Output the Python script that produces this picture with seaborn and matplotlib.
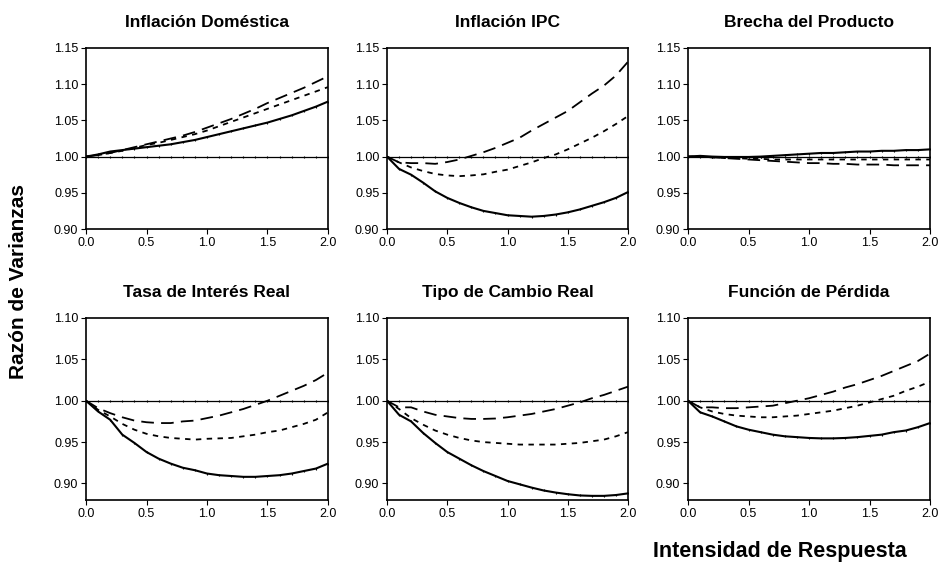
import numpy as np
import pandas as pd
import matplotlib
matplotlib.use("Agg")
import matplotlib.pyplot as plt
import seaborn as sns

sns.set_style("ticks")
plt.rcParams['font.family'] = ['Liberation Sans', 'DejaVu Sans']
plt.rcParams['text.color'] = 'black'
plt.rcParams['axes.labelcolor'] = 'black'

x = [round(0.1 * i, 1) for i in range(21)]

titles = ["Inflación Doméstica", "Inflación IPC", "Brecha del Producto",
          "Tasa de Interés Real", "Tipo de Cambio Real", "Función de Pérdida"]

# solid / short-dash / long-dash series per panel
dom_solid = [1.000, 1.003, 1.007, 1.009, 1.011, 1.013, 1.015, 1.017, 1.020, 1.023, 1.027,
             1.031, 1.035, 1.039, 1.043, 1.047, 1.052, 1.057, 1.063, 1.069, 1.076]
dom_short = [1.000, 1.002, 1.005, 1.008, 1.012, 1.016, 1.019, 1.023, 1.027, 1.031, 1.036,
             1.042, 1.048, 1.054, 1.060, 1.066, 1.072, 1.078, 1.084, 1.090, 1.096]
dom_long = [1.000, 1.002, 1.005, 1.009, 1.013, 1.017, 1.021, 1.025, 1.029, 1.034, 1.040,
            1.046, 1.052, 1.059, 1.066, 1.074, 1.081, 1.088, 1.095, 1.103, 1.111]

ipc_solid = [1.000, 0.983, 0.975, 0.964, 0.952, 0.943, 0.936, 0.930, 0.925, 0.922, 0.919,
             0.918, 0.917, 0.918, 0.920, 0.923, 0.927, 0.932, 0.937, 0.943, 0.951]
ipc_short = [1.000, 0.992, 0.985, 0.980, 0.976, 0.974, 0.973, 0.974, 0.9755, 0.979, 0.982,
             0.987, 0.992, 0.998, 1.003, 1.010, 1.018, 1.026, 1.035, 1.045, 1.056]
ipc_long = [1.000, 0.992, 0.991, 0.991, 0.990, 0.9925, 0.996, 1.001, 1.006, 1.012, 1.019,
            1.026, 1.036, 1.045, 1.054, 1.063, 1.075, 1.087, 1.098, 1.112, 1.131]

gap_solid = [1.000, 1.001, 1.000, 0.9995, 0.9995, 0.9995, 1.000, 1.001, 1.002, 1.003, 1.004,
             1.005, 1.005, 1.006, 1.007, 1.007, 1.008, 1.008, 1.009, 1.009, 1.010]
gap_short = [1.000, 1.000, 0.999, 0.998, 0.998, 0.997, 0.997, 0.996, 0.996, 0.996, 0.996,
             0.996, 0.996, 0.996, 0.996, 0.996, 0.996, 0.996, 0.996, 0.996, 0.996]
gap_long = [1.000, 1.000, 0.999, 0.998, 0.997, 0.996, 0.995, 0.994, 0.993, 0.992, 0.991,
            0.991, 0.990, 0.990, 0.989, 0.989, 0.989, 0.988, 0.988, 0.988, 0.988]

tir_solid = [1.000, 0.987, 0.977, 0.959, 0.949, 0.938, 0.930, 0.924, 0.919, 0.916, 0.912,
             0.910, 0.909, 0.908, 0.908, 0.909, 0.910, 0.912, 0.915, 0.918, 0.924]
tir_short = [1.000, 0.989, 0.981, 0.972, 0.965, 0.960, 0.957, 0.955, 0.954, 0.953, 0.954,
             0.9545, 0.955, 0.957, 0.959, 0.962, 0.964, 0.968, 0.972, 0.977, 0.986]
tir_long = [1.000, 0.991, 0.985, 0.980, 0.976, 0.974, 0.973, 0.973, 0.975, 0.976, 0.979,
            0.982, 0.986, 0.990, 0.995, 1.000, 1.006, 1.012, 1.018, 1.025, 1.034]

tcr_solid = [1.000, 0.983, 0.975, 0.961, 0.949, 0.938, 0.930, 0.922, 0.915, 0.909, 0.903,
             0.899, 0.895, 0.8915, 0.889, 0.887, 0.8855, 0.885, 0.885, 0.886, 0.888]
tcr_short = [1.000, 0.990, 0.979, 0.971, 0.964, 0.959, 0.955, 0.952, 0.950, 0.949, 0.948,
             0.947, 0.947, 0.947, 0.947, 0.948, 0.949, 0.951, 0.953, 0.957, 0.962]
tcr_long = [1.000, 0.992, 0.992, 0.987, 0.983, 0.981, 0.979, 0.978, 0.978, 0.9785, 0.980,
            0.982, 0.984, 0.987, 0.990, 0.994, 0.998, 1.003, 1.007, 1.012, 1.017]

fp_solid = [1.000, 0.986, 0.981, 0.975, 0.969, 0.965, 0.962, 0.959, 0.957, 0.956, 0.955,
            0.9545, 0.9545, 0.955, 0.956, 0.9575, 0.959, 0.962, 0.964, 0.968, 0.973]
fp_short = [1.000, 0.992, 0.987, 0.984, 0.982, 0.981, 0.980, 0.980, 0.981, 0.982, 0.984,
            0.986, 0.988, 0.991, 0.994, 0.998, 1.002, 1.006, 1.012, 1.017, 1.023]
fp_long = [1.000, 0.992, 0.992, 0.991, 0.991, 0.992, 0.993, 0.994, 0.997, 1.000, 1.003,
           1.007, 1.011, 1.016, 1.020, 1.025, 1.030, 1.036, 1.042, 1.048, 1.057]

reference = [1.0] * 21

panels = [
    (dom_solid, dom_short, dom_long),
    (ipc_solid, ipc_short, ipc_long),
    (gap_solid, gap_short, gap_long),
    (tir_solid, tir_short, tir_long),
    (tcr_solid, tcr_short, tcr_long),
    (fp_solid, fp_short, fp_long),
]

top_ticks = [0.90, 0.95, 1.00, 1.05, 1.10, 1.15]
bot_ticks = [0.90, 0.95, 1.00, 1.05, 1.10]
x_ticks = [0.0, 0.5, 1.0, 1.5, 2.0]

fig = plt.figure(figsize=(9.39, 5.65), dpi=100)
W, H = 939, 565
lefts = [86, 387, 688]
widths = [242, 241, 242]
rows = [(48, 229), (318, 500)]

mk = dict(marker='|', markersize=1.8, markeredgewidth=0.8,
          markeredgecolor='black', markerfacecolor='black')

for i, (solid, short, long_) in enumerate(panels):
    r, c = divmod(i, 3)
    top, bot = rows[r]
    ax = fig.add_axes([lefts[c] / W, 1 - bot / H, widths[c] / W, (bot - top) / H])
    sns.lineplot(x=x, y=reference, ax=ax, color='black', linewidth=0.9, **mk)
    sns.lineplot(x=x, y=solid, ax=ax, color='black', linewidth=1.5, **mk)
    sns.lineplot(x=x, y=short, ax=ax, color='black', linewidth=1.3)
    ax.lines[-1].set_dashes([3, 3])
    sns.lineplot(x=x, y=long_, ax=ax, color='black', linewidth=1.3)
    ax.lines[-1].set_dashes([7, 4])
    ax.set_xlim(0, 2.0)
    if r == 0:
        ax.set_ylim(0.90, 1.15)
        ax.set_yticks(top_ticks)
    else:
        ax.set_ylim(0.88, 1.10)
        ax.set_yticks(bot_ticks)
    ax.set_xticks(x_ticks)
    ax.set_xticklabels([f"{v:.1f}" for v in x_ticks])
    ax.set_yticklabels([f"{v:.2f}" for v in ax.get_yticks()])
    ax.tick_params(labelsize=9, length=3.5, width=0.8, colors='black', pad=2)
    for s in ax.spines.values():
        s.set_visible(True)
        s.set_linewidth(1.2)
        s.set_color('black')
    ax.set_title(titles[i], fontsize=12.5, fontweight='bold', pad=15, color='black')
    ax.set_xlabel("")
    ax.set_ylabel("")

fig.text(19 / W, 1 - 281 / H, "Razón de Varianzas", rotation=90, ha='center', va='center',
         fontsize=15, fontweight='bold', color='black')
fig.text(780 / W, 1 - 552 / H, "Intensidad de Respuesta", ha='center', va='center',
         fontsize=15.5, fontweight='bold', color='black')

fig.savefig("out.png", dpi=100)
